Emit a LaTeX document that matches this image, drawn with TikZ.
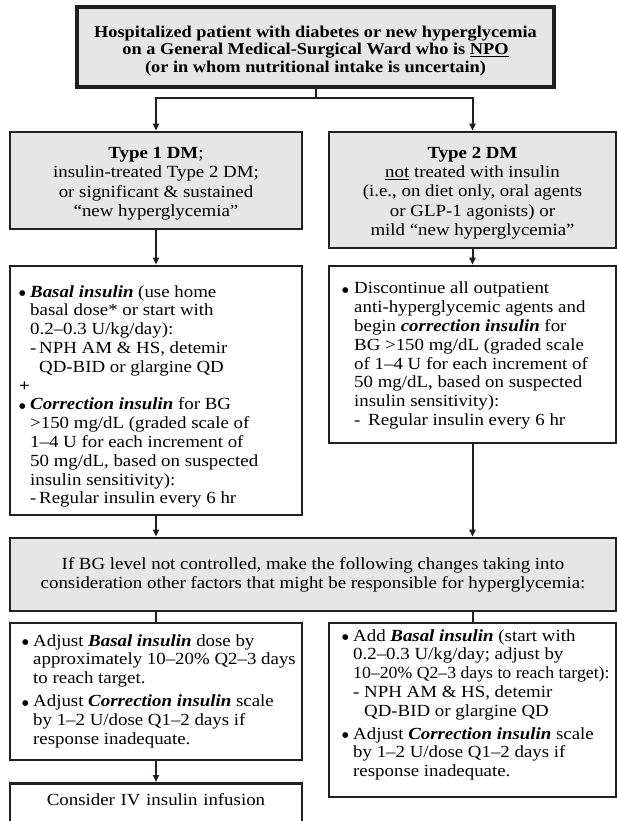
\documentclass[tikz,border=0pt]{standalone}
\usepackage{fontspec}
\usepackage{graphicx}
\setmainfont{Liberation Serif}[FakeStretch=1.11]
\newfontfamily\symfont{DejaVu Sans}
\usetikzlibrary{arrows.meta}

\definecolor{ink}{HTML}{231F20}
\definecolor{boxgray}{HTML}{E6E6E7}

% list helpers: bullet column, hanging indent, sub-item dash
\newcommand{\bul}[1][10pt]{\makebox[#1][l]{\raisebox{1.2pt}{\symfont\fontsize{7.5}{7.5}\selectfont ●}}}
\newcommand{\ind}[1][10pt]{\hspace*{#1}}
\newcommand{\subd}[1][9pt]{\makebox[#1][l]{-}}
\newcommand{\bi}[1]{\textbf{\textit{#1}}}
% taller first line to lower a centred block
\newcommand{\lift}[1]{\rule{0pt}{#1}}

\tikzset{
  bodyfont/.style={font=\fontsize{17}{18.8}\selectfont},
  frame/.style={draw=ink, line width=2.6pt, inner sep=0pt},
  graybox/.style={frame, fill=boxgray, align=center, bodyfont},
  listbox/.style={frame, fill=white},
  listtext/.style={anchor=north west, inner sep=0pt, align=left, bodyfont},
  conn/.style={draw=ink, line width=2pt},
  arr/.style={conn, -{Triangle[width=6pt,length=7pt]}},
}

\begin{document}
\begin{tikzpicture}[x=1pt,y=-1pt]
\useasboundingbox (0,0) rectangle (617,821);

% entry box
\node[graybox, line width=3.6pt, minimum width=477pt, minimum height=80pt,
      font=\fontsize{16.5}{17.5}\selectfont\bfseries] (top) at (315.5,47)
  {\lift{19pt}Hospitalized patient with diabetes or new hyperglycemia\\
   on a General Medical-Surgical Ward who is \underline{NPO}\\
   (or in whom nutritional intake is uncertain)};

% patient groups
\node[graybox, font=\fontsize{17}{19.3}\selectfont, minimum width=292pt, minimum height=97pt] (L2) at (156,180.5)
  {\lift{17.5pt}\textbf{Type 1 DM};\\insulin-treated Type 2 DM;\\or significant \& sustained\\“new hyperglycemia”};
\node[graybox, font=\fontsize{17}{19.3}\selectfont, minimum width=287pt, minimum height=116pt] (R2) at (472.5,190)
  {\lift{17.5pt}\textbf{Type 2 DM}\\\underline{not} treated with insulin\\(i.e., on diet only, oral agents\\or GLP-1 agonists) or\\mild “new hyperglycemia”};

% initial regimens
\node[listbox, minimum width=292pt, minimum height=249pt] (L3) at (156,390.5) {};
\node[listtext] (L3t) at (19,285)
  {\bul[11pt]\bi{Basal insulin} (use home\\
   \ind[11pt]basal dose* or start with\\
   \ind[11pt]0.2–0.3 U/kg/day):\\
   \ind[11pt]\subd NPH AM \& HS, detemir\\
   \ind[20pt]QD-BID or glargine QD\\
   \textbf{+}\\
   \bul[11pt]\bi{Correction insulin} for BG\\
   \ind[11pt]>150 mg/dL (graded scale of\\
   \ind[11pt]1–4 U for each increment of\\
   \ind[11pt]50 mg/dL, based on suspected\\
   \ind[11pt]insulin sensitivity):\\
   \ind[11pt]\subd Regular insulin every 6 hr};

\node[listbox, minimum width=287pt, minimum height=177pt] (R3) at (472.5,354.5) {};
\node[listtext] (R3t) at (342,282)
  {\bul[12pt]Discontinue all outpatient\\
   \ind[12pt]anti-hyperglycemic agents and\\
   \ind[12pt]begin \bi{correction insulin} for\\
   \ind[12pt]BG >150 mg/dL (graded scale\\
   \ind[12pt]of 1–4 U for each increment of\\
   \ind[12pt]50 mg/dL, based on suspected\\
   \ind[12pt]insulin sensitivity):\\
   \ind[12pt]\subd[14pt]Regular insulin every 6 hr};

% escalation header
\node[graybox, minimum width=606pt, minimum height=73pt] (bg) at (313,574.5)
  {If BG level not controlled, make the following changes taking into\\
   consideration other factors that might be responsible for hyperglycemia:};

% adjustments
\node[listbox, minimum width=292pt, minimum height=137pt] (L4) at (156,691.5) {};
\node[listtext] (L4t) at (22,634)
  {\bul[11pt]Adjust \bi{Basal insulin} dose by\\
   \ind[11pt]approximately 10–20\% Q2–3 days\\
   \ind[11pt]to reach target.\\[4pt]
   \bul[11pt]Adjust \bi{Correction insulin} scale\\
   \ind[11pt]by 1–2 U/dose Q1–2 days if\\
   \ind[11pt]response inadequate.};

\node[listbox, minimum width=287pt, minimum height=174pt] (R4) at (472.5,710) {};
\node[listtext] (R4t) at (342,629)
  {\bul[11pt]Add \bi{Basal insulin} (start with\\
   \ind[11pt]0.2–0.3 U/kg/day; adjust by\\
   \ind[11pt]\scalebox{0.94}[1]{10–20\% Q2–3 days to reach target):}\\
   \ind[11pt]\subd[11pt]NPH AM \& HS, detemir\\
   \ind[22pt]QD-BID or glargine QD\\[4pt]
   \bul[11pt]Adjust \bi{Correction insulin} scale\\
   \ind[11pt]by 1–2 U/dose Q1–2 days if\\
   \ind[11pt]response inadequate.};

% last resort, running off the page
\node[listbox, bodyfont, text width=272pt, align=center, inner xsep=10pt, inner ysep=10pt,
      text depth=60pt, anchor=north] (C) at (156,782)
  {Consider IV insulin infusion};

% connectors
\coordinate (split) at (top.south |- 0,98);
\draw[conn] (top.south) -- (split);
\draw[arr] (split) -| (L2.north);
\draw[arr] (split) -| (R2.north);
\draw[arr] (L2.south) -- (L3.north);
\draw[arr] (R2.south) -- (R3.north);
\draw[arr] (L3.south) -- (L3.south |- bg.north);
\draw[arr] (R3.south) -- (R3.south |- bg.north);
\draw[conn] (bg.south -| L4.north) -- (L4.north);
\draw[conn] (bg.south -| R4.north) -- (R4.north);
\draw[arr] (L4.south) -- (C.north);
\end{tikzpicture}
\end{document}
